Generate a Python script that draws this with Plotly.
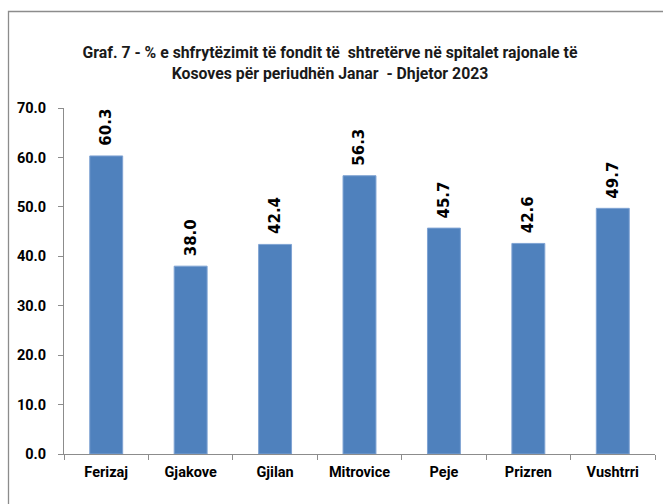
import plotly.graph_objects as go

categories = ["Ferizaj", "Gjakove", "Gjilan", "Mitrovice", "Peje", "Prizren", "Vushtrri"]
values = [60.3, 38.0, 42.4, 56.3, 45.7, 42.6, 49.7]
y_ticks = [0, 10, 20, 30, 40, 50, 60, 70]
y_tick_labels = [f"{v:.1f}" for v in y_ticks]
title_text = ("Graf. 7 - % e shfrytëzimit të fondit të  shtretërve në spitalet rajonale të<br>"
              "Kosoves për periudhën Janar  - Dhjetor 2023")

narrow = "Roboto, Lato, sans-serif"

W, H = 663, 504
ml, mr, mt, mb = 64, 8, 108, 50
pw, ph = W - ml - mr, H - mt - mb

def px_x(p):
    return (p - ml) / pw

def px_y(p):
    return 1 - (p - mt) / ph

fig = go.Figure()
fig.add_trace(go.Bar(
    x=categories, y=values,
    marker=dict(color="#4F81BD", line=dict(color="#7FA3D3", width=1)),
    cliponaxis=False,
    hoverinfo="x+y",
))

for c, v in zip(categories, values):
    fig.add_annotation(x=c, y=v, xref="x", yref="y", text=f"{v:.1f}", showarrow=False,
                       textangle=-90, yanchor="bottom", xanchor="center", yshift=8,
                       font=dict(family="DejaVu Sans, Verdana, sans-serif", size=15,
                                 color="#000000", weight="bold"))

fig.update_layout(
    width=W, height=H,
    margin=dict(l=ml, r=mr, t=mt, b=mb),
    paper_bgcolor="white", plot_bgcolor="white",
    bargap=0.61,
    showlegend=False,
    title=dict(text=title_text, xref="container", x=330 / W, xanchor="center",
               y=1 - 58 / H, yanchor="middle",
               font=dict(family=narrow, size=15.8, color="#1a1a1a", weight="bold")),
    shapes=[dict(type="rect", xref="paper", yref="paper",
                 x0=px_x(8.5), x1=px_x(680), y0=px_y(520), y1=px_y(11.5),
                 line=dict(color="#8c8c8c", width=1.3), layer="above")],
)
fig.update_yaxes(range=[0, 70], tickvals=y_ticks, ticktext=y_tick_labels,
                 showgrid=False, showline=True, linecolor="#8c8c8c", linewidth=1,
                 ticks="outside", ticklen=5, tickcolor="#8c8c8c", zeroline=False,
                 ticklabelstandoff=9,
                 tickfont=dict(family=narrow, size=14.5, color="#000000", weight="bold"))
fig.update_xaxes(showgrid=False, showline=True, linecolor="#8c8c8c", linewidth=1,
                 ticks="outside", ticklen=5, tickcolor="#8c8c8c", tickson="boundaries",
                 tickangle=0, ticklabelstandoff=5,
                 tickfont=dict(family=narrow, size=14.5, color="#000000", weight="bold"))

fig.write_html("out.html", config={"displayModeBar": False},
               post_script="document.body.style.margin='0';document.body.style.overflow='hidden';")
